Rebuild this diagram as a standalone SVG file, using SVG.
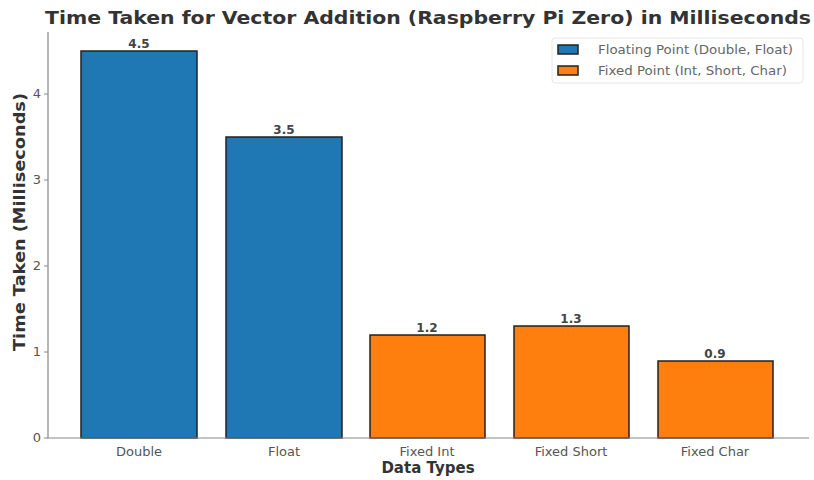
<svg xmlns="http://www.w3.org/2000/svg" width="814" height="480" viewBox="0 0 814 480">
  <style>
    text { font-family: "DejaVu Sans", "Liberation Sans", sans-serif; }
    .title { font-size: 18px; font-weight: bold; fill: #333333; }
    .axlabel { font-size: 15px; font-weight: bold; fill: #333333; }
    .tick { font-size: 13px; fill: #555555; }
    .val { font-size: 12px; font-weight: bold; fill: #444444; text-anchor: middle; }
    .grid line { stroke: #e8e8e8; stroke-width: 1; }
    .spine { stroke: #888888; stroke-width: 1.2; fill: none; }
    .float { fill: #1f77b4; stroke: #222222; stroke-width: 1.5; }
    .fixed { fill: #ff7f0e; stroke: #222222; stroke-width: 1.5; }
    .legtext { font-size: 13px; fill: #666666; }
  </style>
  <defs>
    <g id="gridlines">
      <line x1="48" y1="352" x2="809" y2="352"/>
      <line x1="48" y1="266" x2="809" y2="266"/>
      <line x1="48" y1="180" x2="809" y2="180"/>
      <line x1="48" y1="94" x2="809" y2="94"/>
      <line x1="139" y1="32" x2="139" y2="438"/>
      <line x1="284" y1="32" x2="284" y2="438"/>
      <line x1="427" y1="32" x2="427" y2="438"/>
      <line x1="571" y1="32" x2="571" y2="438"/>
      <line x1="715" y1="32" x2="715" y2="438"/>
    </g>
  </defs>
  <rect width="814" height="480" fill="#ffffff"/>

  <!-- title -->
  <text class="title" x="428" y="24" text-anchor="middle" textLength="766" lengthAdjust="spacingAndGlyphs">Time Taken for Vector Addition (Raspberry Pi Zero) in Milliseconds</text>

  <!-- background grid -->
  <g class="grid"><use href="#gridlines"/></g>

  <!-- bars: y=0 at 438, 86 px per ms -->
  <g id="bar-double"><rect class="float" x="81" y="51" width="116" height="387"/><text class="val" x="139" y="48">4.5</text></g>
  <g id="bar-float"><rect class="float" x="226" y="137" width="116" height="301"/><text class="val" x="284" y="134">3.5</text></g>
  <g id="bar-fixed-int"><rect class="fixed" x="370" y="335" width="115" height="103"/><text class="val" x="427" y="332">1.2</text></g>
  <g id="bar-fixed-short"><rect class="fixed" x="514" y="326" width="115" height="112"/><text class="val" x="571" y="323">1.3</text></g>
  <g id="bar-fixed-char"><rect class="fixed" x="658" y="361" width="115" height="77"/><text class="val" x="715" y="358">0.9</text></g>

  <!-- faint grid over the bars -->
  <g class="grid" opacity="0.12"><use href="#gridlines"/></g>

  <!-- axes -->
  <g id="axes">
    <path class="spine" d="M48 32 V438 H809"/>
    <g stroke="#888888" stroke-width="1">
      <line x1="44" y1="438" x2="48" y2="438"/>
      <line x1="44" y1="352" x2="48" y2="352"/>
      <line x1="44" y1="266" x2="48" y2="266"/>
      <line x1="44" y1="180" x2="48" y2="180"/>
      <line x1="44" y1="94" x2="48" y2="94"/>
    </g>
    <g class="tick" text-anchor="end">
      <text x="41" y="442">0</text>
      <text x="41" y="356">1</text>
      <text x="41" y="270">2</text>
      <text x="41" y="184">3</text>
      <text x="41" y="98">4</text>
    </g>
    <g class="tick" text-anchor="middle">
      <text x="139" y="456">Double</text>
      <text x="284" y="456">Float</text>
      <text x="427" y="456">Fixed Int</text>
      <text x="571" y="456">Fixed Short</text>
      <text x="715" y="456">Fixed Char</text>
    </g>
    <text class="axlabel" x="428" y="473" text-anchor="middle">Data Types</text>
    <text class="axlabel" transform="translate(25 222) rotate(-90)" text-anchor="middle" textLength="258" lengthAdjust="spacingAndGlyphs">Time Taken (Milliseconds)</text>
  </g>

  <!-- legend -->
  <g id="legend">
    <rect x="552" y="38" width="251" height="45" rx="3" fill="#ffffff" fill-opacity="0.8" stroke="#e6e6e6"/>
    <rect class="float" x="558" y="45" width="20" height="9" stroke-width="1"/>
    <rect class="fixed" x="558" y="66" width="20" height="9" stroke-width="1"/>
    <text class="legtext" x="598" y="54" textLength="195" lengthAdjust="spacingAndGlyphs">Floating Point (Double, Float)</text>
    <text class="legtext" x="598" y="75" textLength="189" lengthAdjust="spacingAndGlyphs">Fixed Point (Int, Short, Char)</text>
  </g>
</svg>
